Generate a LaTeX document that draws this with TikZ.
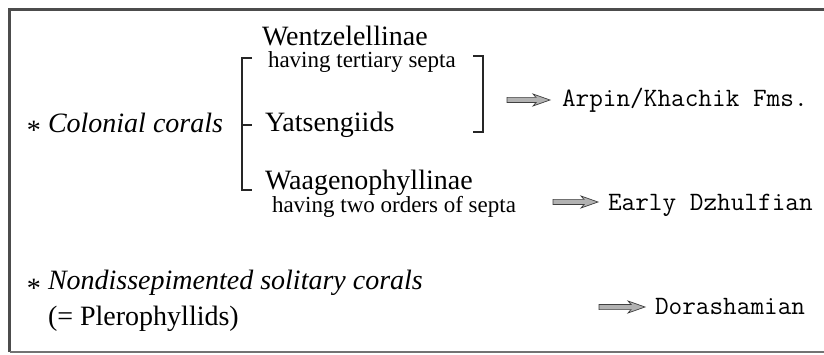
\documentclass[tikz,border=0pt]{standalone}
\usepackage{fontspec}
\setmainfont{Liberation Serif}
\usetikzlibrary{calc}
\begin{document}
\begin{tikzpicture}[x=1pt,y=-1pt,
  every node/.style={inner sep=0pt, outer sep=0pt, anchor=base west},
  big/.style={font=\fontsize{28}{30}\selectfont},
  small/.style={font=\fontsize{23}{26}\selectfont},
  mono/.style={font=\fontsize{26.5}{28}\selectfont\ttfamily},
  brk/.style={line width=1.6pt, draw=black!85},
  frame/.style={line width=3pt, draw=black!70},
  fatarrow/.style={draw=black!75, fill=gray!60, line width=0.7pt, line join=miter,
    to path={let \p1=(\tikztostart), \p2=(\tikztotarget) in
      (\x1,\y1+2.6pt) -- (\x2-14pt,\y1+2.6pt) -- (\x2-17pt,\y1+6pt) -- (\x2,\y1)
      -- (\x2-17pt,\y1-6pt) -- (\x2-14pt,\y1-2.6pt) -- (\x1,\y1-2.6pt) -- cycle}},
]
\useasboundingbox (0,0) rectangle (824,355);
% frame
\draw[frame] (9.5,352) -- (9.5,9.5) -- (824,9.5);
\draw[line width=1.2pt, draw=black!55] (9.5,352) -- (824,352);

% texts
\node[big] (col) at (27,133) {\raisebox{-0.25em}{*} \textit{Colonial corals}};
\node[big] (wen) at (262,46) {Wentzelellinae};
\node[small] (ter) at (268,68) {having tertiary septa};
\node[big] (yat) at (265,132) {Yatsengiids};
\node[big] (waa) at (265,190) {Waagenophyllinae};
\node[small] (two) at (272,213) {having two orders of septa};
\node[mono] (arp) at (562,107) {Arpin/Khachik Fms.};
\node[mono] (ear) at (608,211) {Early Dzhulfian};
\node[mono] (dor) at (655,314) {Dorashamian};
\node[big] (non) at (27,290) {\raisebox{-0.25em}{*} \textit{Nondissepimented solitary corals}};
\node[big] (ple) at (48,325) {(= Plerophyllids)};

% brackets
\draw[brk] (252,58) -- (242,58) -- (242,190) -- (252,190);
\draw[brk] (242,125) -- (252,125);
\draw[brk] (473,56) -- (483,56) -- (483,132) -- (473,132);

% arrows
\coordinate (s1) at (507,100);
\coordinate (s2) at (553,202);
\coordinate (s3) at (599,307);
\path[fatarrow] (s1) to ([xshift=-12pt]arp.west);
\path[fatarrow] (s2) to ([xshift=-10pt]ear.west);
\path[fatarrow] (s3) to ([xshift=-10pt]dor.west);
\end{tikzpicture}
\end{document}
